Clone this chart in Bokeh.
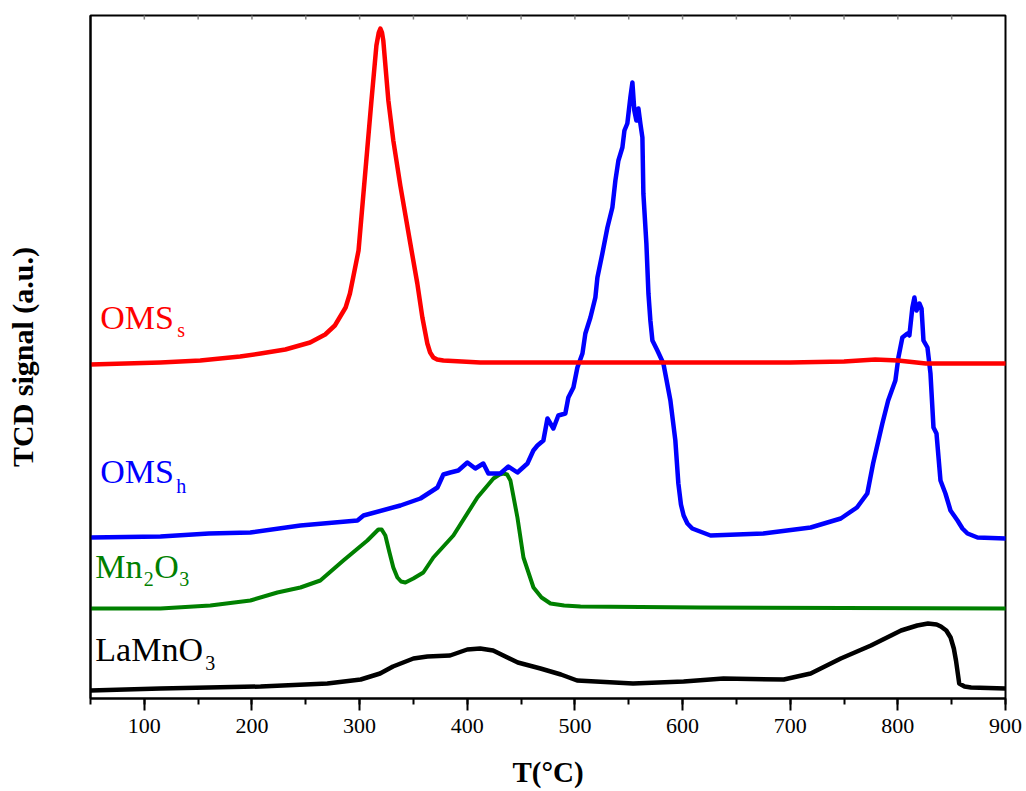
import math
from bokeh.plotting import figure
from bokeh.models import Range1d, SingleIntervalTicker, FixedTicker
from bokeh.core.properties import value
from bokeh.embed import file_html
from bokeh.resources import INLINE

# H2-TPR profiles: temperature (°C) and stacked TCD signal (a.u.)
oms_s_T = [50, 115, 152, 189, 208, 231, 254, 268, 277, 287, 291, 294, 299, 303, 307, 311, 315.6,
           317.8, 319.3, 320.8, 322, 326.7, 331.3, 337.8, 347.1, 353.6, 358.3, 362.9, 365.5,
           368.5, 372, 377.8, 412, 500, 600, 700, 750, 779, 800, 826, 900]
oms_s_v = [33.4, 33.6, 33.8, 34.2, 34.5, 34.9, 35.6, 36.4, 37.3, 39.1, 40.5, 42.1, 44.8, 49.8,
           54.8, 59.8, 65.3, 66.6, 67.0, 66.6, 65.8, 59.8, 55.8, 51.3, 45.5, 41.5, 38.1, 35.5,
           34.6, 34.1, 33.9, 33.8, 33.6, 33.6, 33.6, 33.6, 33.7, 33.9, 33.8, 33.5, 33.5]

oms_h_T = [50, 115, 160, 198.5, 245, 298, 303.6, 337.9, 356.5, 372.3, 377.8, 384.3, 391.7, 400.1,
           407.5, 414.9, 419.6, 430.7, 438.2, 446.6, 455.9, 461.4, 465.2, 470.7, 474.5, 480.0,
           484.6, 491.1, 493.9, 498.6, 502.3, 507.0, 509.7, 514.4, 519.0, 520.9, 525.5, 530.2,
           534.8, 537.6, 540.4, 544.1, 546.0, 548.7, 551.5, 553.4, 555.2, 557.1, 559.0, 560.8,
           562.7, 563.6, 566.4, 568.3, 570.1, 572.0, 576.6, 582.2, 588.7, 593.3, 596.1, 598.5,
           601.0, 604.5, 609.0, 613.8, 626, 675, 719, 747, 762, 771.6, 777, 785.6, 791, 797.7,
           800.5, 804.2, 808.9, 810.7, 813.5, 815.4, 817.3, 820.1, 822, 823.8, 827.5, 830.3,
           833.1, 835.9, 839.6, 844.2, 848.9, 855.4, 860.0, 864.7, 874, 900]
oms_h_v = [16.1, 16.2, 16.5, 16.6, 17.3, 17.8, 18.3, 19.3, 20.0, 21.1, 22.4, 22.6, 22.8, 23.6,
           23.0, 23.5, 22.5, 22.5, 23.2, 22.6, 23.5, 24.8, 25.3, 25.8, 28.0, 27.0,
           28.3, 28.5, 30.1, 31.1, 33.1, 34.5, 36.5, 38.1, 40.1, 42.1, 44.5, 47.1,
           49.1, 51.8, 53.8, 55.1, 56.8, 57.5, 60.1, 61.6, 58.8, 57.8, 59.0, 57.5,
           56.1, 50.5, 45.5, 40.5, 37.8, 35.8, 34.8, 33.5, 29.8, 25.8, 21.5, 19.4,
           18.3, 17.5, 17.0, 16.8, 16.3, 16.5, 17.1, 18.0, 19.1, 20.5, 23.5, 27.5, 29.8, 31.8,
           34.1, 36.1, 36.5, 36.3, 39.1, 40.1, 38.8, 39.5, 39.0, 35.8, 35.1, 32.5,
           27.1, 26.5, 21.8, 20.5, 18.8, 17.8, 17.0, 16.5, 16.1, 16.0]

mn2o3_T = [50, 115, 161.3, 198.5, 223.6, 245, 263.5, 284.9, 307.2, 317.4, 320.5, 323.9, 327.5,
           331.3, 335.1, 338.5, 342.5, 349.9, 359.2, 368.5, 387.1, 409.4, 424.3, 430.0, 433.6,
           437.0, 440.1, 446.6, 452.2, 461.5, 469.0, 477.3, 490.0, 505.2, 616.7, 900]
mn2o3_v = [9.0, 9.0, 9.3, 9.8, 10.6, 11.1, 11.8, 13.8, 15.8, 16.9, 16.9, 16.3, 14.7,
           13.1, 12.1, 11.7, 11.6, 12.0, 12.6, 14.1, 16.3, 20.1, 22.0, 22.4, 22.5,
           22.4, 21.8, 18.1, 14.1, 11.1, 10.1, 9.5, 9.3, 9.2, 9.1, 9.0]

lamno3_T = [50, 115, 208, 270, 301, 319, 331, 350, 363, 384, 400, 412, 424, 447, 468, 487, 502,
            554, 601, 638, 694, 719, 747, 775, 803, 818, 828, 836, 840, 845, 849, 852, 854, 857,
            862, 868, 900]
lamno3_v = [0.8, 1.0, 1.2, 1.5, 1.9, 2.5, 3.2, 4.0, 4.2, 4.3, 4.9, 5.0, 4.8, 3.6, 3.0, 2.4, 1.8,
            1.5, 1.7, 2.0, 1.9, 2.5, 4.0, 5.3, 6.8, 7.3, 7.5, 7.4, 7.2, 6.8, 6.1, 5.0, 3.8, 1.5,
            1.2, 1.1, 1.0]

top_ticks = [100, 150, 200, 250, 300, 350, 400, 450, 500, 550, 600, 650, 700, 750, 800, 850]

SERIF = "Liberation Serif"
Y_TOP = 68.3

p = figure(width=1026, height=791, output_backend="svg", toolbar_location=None,
           x_range=Range1d(50, 900), y_range=Range1d(0, Y_TOP),
           min_border_left=90, min_border_right=21, min_border_top=15, min_border_bottom=93,
           background_fill_color="white", border_fill_color="white")
p.grid.visible = False
p.outline_line_color = "black"
p.outline_line_width = 2

# bottom axis
xa = p.xaxis[0]
xa.ticker = SingleIntervalTicker(interval=100, num_minor_ticks=2)
xa.axis_line_width = 2
xa.major_tick_in = 0
xa.major_tick_out = 12
xa.minor_tick_in = 0
xa.minor_tick_out = 6
xa.major_tick_line_width = 2
xa.minor_tick_line_width = 2
xa.major_label_text_font = SERIF
xa.major_label_text_font_size = "22px"
xa.major_label_text_color = "black"
xa.major_label_standoff = 8
xa.axis_label = "T(°C)"
xa.axis_label_text_font = SERIF
xa.axis_label_text_font_style = "bold"
xa.axis_label_text_font_size = "29px"
xa.axis_label_text_color = "black"
xa.axis_label_standoff = 20

# left axis: title only
ya = p.yaxis[0]
ya.ticker = FixedTicker(ticks=[])
ya.axis_line_width = 2
ya.major_tick_line_color = None
ya.minor_tick_line_color = None
ya.axis_label = "TCD signal (a.u.)"
ya.axis_label_text_font = SERIF
ya.axis_label_text_font_style = "bold"
ya.axis_label_text_font_size = "30px"
ya.axis_label_text_color = "black"
ya.axis_label_standoff = 52

# small inward ticks along the top edge
p.scatter(x=top_ticks, y=[Y_TOP] * len(top_ticks), marker="dash", angle=math.pi / 2,
          size=8, line_color="#808080", line_width=1.5)

series = [
    (lamno3_T, lamno3_v, "#000000", 4.5),
    (mn2o3_T, mn2o3_v, "#008000", 4),
    (oms_h_T, oms_h_v, "#0000FF", 4.5),
    (oms_s_T, oms_s_v, "#FF0000", 4.5),
]
for t, v, c, w in series:
    p.line(t, v, line_color=c, line_width=w, line_join="round", line_cap="round")

# sample labels with subscripts: (x, baseline y, text, size, colour)
labels = [
    (59.1, 38.1, "OMS", "34px", "#FF0000"),
    (130.7, 36.9, "s", "20px", "#FF0000"),
    (59.1, 22.7, "OMS", "34px", "#0000FF"),
    (129.7, 21.3, "h", "20px", "#0000FF"),
    (54.5, 13.2, "Mn", "34px", "#008000"),
    (99.5, 12.0, "2", "20px", "#008000"),
    (109.3, 13.2, "O", "34px", "#008000"),
    (132.5, 12.0, "3", "20px", "#008000"),
    (54.5, 4.9, "LaMnO", "34px", "#000000"),
    (156.6, 3.6, "3", "20px", "#000000"),
]
for x, y, s, size, c in labels:
    p.text(x=[x], y=[y], text=[s], text_font=value(SERIF), text_font_size=size,
           text_color=c, text_align="left", text_baseline="alphabetic")

open("out.html", "w").write(file_html(p, INLINE))
